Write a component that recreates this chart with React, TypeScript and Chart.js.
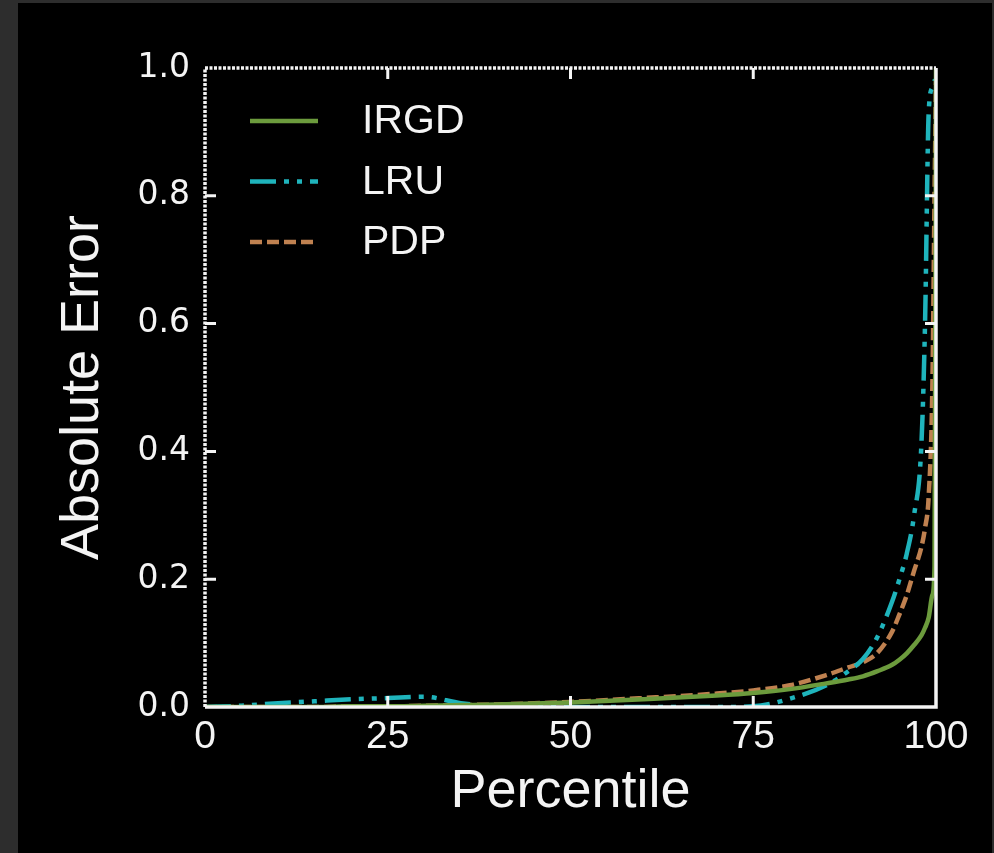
import { useEffect, useRef } from "react";
import { Chart, registerables } from "chart.js";

Chart.register(...registerables);

// ---- data ----
const percentiles = [0, 5, 10, 15, 20, 25, 30, 35, 40, 50, 60, 70, 75, 80, 85, 88, 90, 92, 94, 95, 96, 97, 98, 98.5, 99, 99.5, 99.8, 100];
const irgdValues = [0, 0, 0, 0, 0.001, 0.001, 0.002, 0.003, 0.004, 0.007, 0.012, 0.018, 0.022, 0.028, 0.037, 0.043, 0.048, 0.056, 0.066, 0.074, 0.084, 0.097, 0.112, 0.124, 0.14, 0.175, 0.22, 1.0];
const lruValues = [0, 0.002, 0.006, 0.009, 0.012, 0.014, 0.016, 0.006, 0.001, 0, 0, 0, 0.001, 0.013, 0.034, 0.056, 0.075, 0.11, 0.165, 0.2, 0.24, 0.3, 0.41, 0.6, 0.93, 0.97, 0.98, 0.98];
const pdpValues = [0, 0, 0, 0, 0.001, 0.001, 0.002, 0.003, 0.004, 0.008, 0.014, 0.021, 0.026, 0.034, 0.05, 0.062, 0.07, 0.085, 0.118, 0.145, 0.175, 0.213, 0.25, 0.28, 0.33, 0.5, 0.8, 0.98];
const seriesNames = ["IRGD", "LRU", "PDP"];
const xTickValues = [0, 25, 50, 75, 100];
const yTickValues = [0, 0.2, 0.4, 0.6, 0.8, 1.0];

const WHITE = "#f4f4f4";
const FONT = "'Liberation Sans', Arial, Helvetica, sans-serif";

const toPoints = (vals: number[]) => percentiles.map((p, i) => ({ x: p, y: vals[i] }));

const framePlugin = {
  id: "frameTicks",
  afterDatasetsDraw(chart: any) {
    const { ctx, chartArea: a, scales } = chart;
    ctx.save();
    ctx.strokeStyle = WHITE;
    ctx.lineWidth = 3.5;
    ctx.lineCap = "butt";
    // left + top dotted
    ctx.setLineDash([3, 1.5]);
    ctx.beginPath();
    ctx.moveTo(a.left, a.bottom);
    ctx.lineTo(a.left, a.top);
    ctx.lineTo(a.right, a.top);
    ctx.stroke();
    // right + bottom solid
    ctx.setLineDash([]);
    ctx.beginPath();
    ctx.moveTo(a.right, a.top);
    ctx.lineTo(a.right, a.bottom);
    ctx.lineTo(a.left, a.bottom);
    ctx.stroke();
    // inward ticks
    const len = 11;
    ctx.lineWidth = 3;
    ctx.beginPath();
    scales.x.ticks.forEach((t: any) => {
      if (t.value <= scales.x.min || t.value >= scales.x.max) return;
      const px = scales.x.getPixelForValue(t.value);
      ctx.moveTo(px, a.bottom);
      ctx.lineTo(px, a.bottom - len);
      ctx.moveTo(px, a.top);
      ctx.lineTo(px, a.top + len);
    });
    scales.y.ticks.forEach((t: any) => {
      if (t.value <= scales.y.min || t.value >= scales.y.max) return;
      const py = scales.y.getPixelForValue(t.value);
      ctx.moveTo(a.left, py);
      ctx.lineTo(a.left + len, py);
      ctx.moveTo(a.right, py);
      ctx.lineTo(a.right - len, py);
    });
    ctx.stroke();
    ctx.restore();
  },
};

const legendPlugin = {
  id: "insideLegend",
  afterDraw(chart: any) {
    const { ctx, chartArea: a } = chart;
    ctx.save();
    ctx.font = `41px ${FONT}`;
    ctx.textBaseline = "middle";
    ctx.textAlign = "left";
    chart.data.datasets.forEach((ds: any, i: number) => {
      const y = a.top + 53 + i * 60.5;
      ctx.strokeStyle = ds.borderColor;
      ctx.lineWidth = ds.borderWidth;
      ctx.setLineDash(ds.borderDash || []);
      ctx.beginPath();
      ctx.moveTo(a.left + 45, y);
      ctx.lineTo(a.left + 113, y);
      ctx.stroke();
      ctx.setLineDash([]);
      ctx.fillStyle = WHITE;
      ctx.fillText(ds.label, a.left + 157, y + 1);
    });
    ctx.restore();
  },
};

export default function App() {
  const canvasRef = useRef<HTMLCanvasElement | null>(null);

  useEffect(() => {
    document.body.style.margin = "0";
    const canvas = canvasRef.current;
    if (!canvas) return;
    const chart = new Chart(canvas, {
      type: "line",
      data: {
        datasets: [
          {
            label: seriesNames[0],
            data: toPoints(irgdValues),
            borderColor: "#6c9b3d",
            borderWidth: 4.5,
            borderDash: [],
            pointRadius: 0,
            cubicInterpolationMode: "monotone",
            order: 1,
          },
          {
            label: seriesNames[1],
            data: toPoints(lruValues),
            borderColor: "#1fb4bc",
            borderWidth: 4.5,
            borderDash: [26, 8, 5, 8, 5, 8],
            pointRadius: 0,
            cubicInterpolationMode: "monotone",
            order: 2,
          },
          {
            label: seriesNames[2],
            data: toPoints(pdpValues),
            borderColor: "#bf8150",
            borderWidth: 4.5,
            borderDash: [12, 5],
            pointRadius: 0,
            cubicInterpolationMode: "monotone",
            order: 3,
          },
        ],
      },
      options: {
        responsive: false,
        animation: false,
        layout: { padding: { top: 65, right: 56, bottom: 0, left: 0 } },
        plugins: {
          legend: { display: false },
          tooltip: { enabled: false },
        },
        scales: {
          x: {
            type: "linear",
            min: 0,
            max: 100,
            afterFit: (s: any) => {
              s.height = 146;
            },
            afterBuildTicks: (s: any) => {
              s.ticks = xTickValues.map((v) => ({ value: v }));
            },
            grid: { display: false, drawTicks: false, tickLength: 0 },
            border: { display: false },
            ticks: {
              color: WHITE,
              padding: 7,
              font: { family: FONT, size: 39 },
              maxRotation: 0,
              callback: (v: any) => String(v),
            },
            title: {
              display: true,
              text: "Percentile",
              color: WHITE,
              font: { family: FONT, size: 54 },
              padding: { top: 0, bottom: 28 },
            },
          },
          y: {
            type: "linear",
            min: 0,
            max: 1,
            afterFit: (s: any) => {
              s.width = 187;
            },
            afterBuildTicks: (s: any) => {
              s.ticks = yTickValues.map((v) => ({ value: v }));
            },
            grid: { display: false, drawTicks: false, tickLength: 0 },
            border: { display: false },
            ticks: {
              color: WHITE,
              padding: 15,
              font: { family: "'DejaVu Sans', sans-serif", size: 33 },
              callback: (v: any) => Number(v).toFixed(1),
            },
            title: {
              display: true,
              text: "Absolute Error",
              color: WHITE,
              font: { family: FONT, size: 54 },
              padding: { top: 33, bottom: 0 },
            },
          },
        },
      },
      plugins: [framePlugin, legendPlugin],
    });
    return () => chart.destroy();
  }, []);

  return (
    <div style={{ position: "relative", width: 994, height: 853, background: "#2d2d2d", overflow: "hidden" }}>
      <div style={{ position: "absolute", left: 18, top: 3, width: 974, height: 850, background: "#000" }}>
        <canvas ref={canvasRef} width={974} height={850} style={{ display: "block", width: 974, height: 850 }} />
      </div>
    </div>
  );
}
